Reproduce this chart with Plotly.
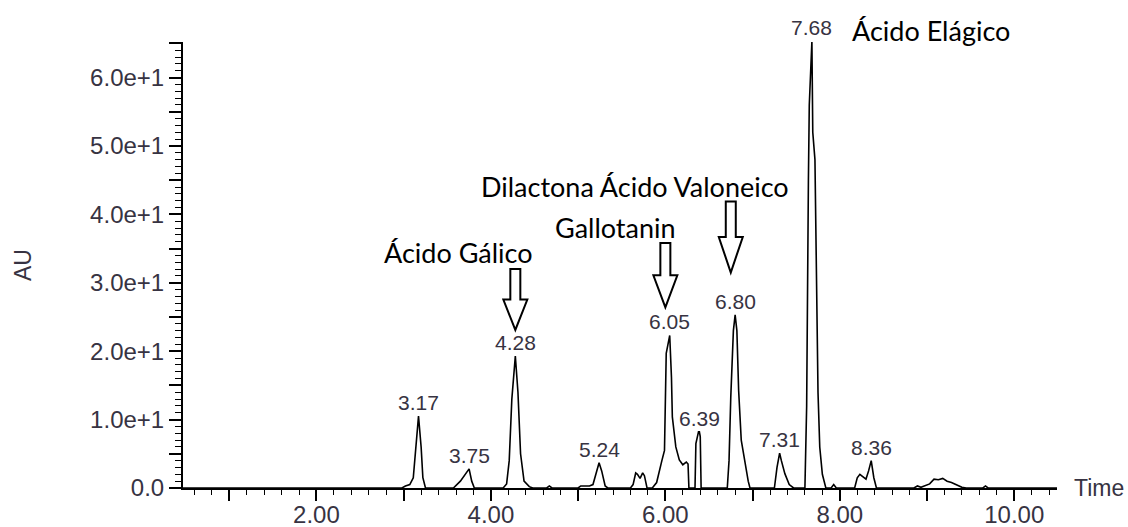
import plotly.graph_objects as go

# ---- chromatogram trace (vertices) ----
time_min = [0.47, 2.98, 3.02, 3.07, 3.11, 3.14, 3.17, 3.20, 3.22, 3.25,
            3.57, 3.65, 3.72, 3.75, 3.78, 3.81,
            4.14, 4.18, 4.21, 4.24, 4.28, 4.31, 4.34, 4.38, 4.44, 4.48,
            4.64, 4.67, 4.70,
            5.00, 5.03, 5.13, 5.17, 5.21, 5.24, 5.27, 5.31, 5.34,
            5.60, 5.63, 5.66, 5.68, 5.71, 5.74, 5.76, 5.79,
            5.85, 5.90, 5.93, 5.96, 5.99, 6.01, 6.05, 6.07, 6.08, 6.12, 6.16, 6.20, 6.24, 6.26, 6.27,
            6.34, 6.35, 6.38, 6.39, 6.40, 6.41,
            6.71, 6.73, 6.75, 6.78, 6.80, 6.82, 6.84, 6.87, 6.92, 6.95, 6.97,
            7.25, 7.28, 7.31, 7.33, 7.37, 7.42, 7.47,
            7.60, 7.62, 7.64, 7.65, 7.68, 7.69, 7.715, 7.73, 7.75, 7.77, 7.80, 7.84,
            7.90, 7.93, 7.96,
            8.17, 8.20, 8.23, 8.26, 8.30, 8.33, 8.36, 8.39, 8.42,
            8.85, 8.89, 8.93, 8.98, 9.03, 9.08, 9.13, 9.18, 9.23, 9.28, 9.34, 9.40, 9.45,
            9.64, 9.67, 9.70, 10.49]
absorb_au = [0, 0, 0.3, 0.5, 1.5, 6.0, 10.5, 6.0, 1.5, 0,
             0, 1.0, 2.2, 2.8, 1.0, 0,
             0, 0.6, 4.0, 13.0, 19.3, 14.0, 5.0, 1.0, 0.2, 0,
             0, 0.3, 0,
             0, 0.3, 0.3, 0.5, 2.5, 3.7, 2.5, 0.3, 0,
             0, 0.5, 2.2, 2.0, 1.4, 2.2, 1.8, 0,
             0, 0.8, 2.2, 4.0, 5.5, 19.7, 22.3, 16.2, 10.4, 6.0, 4.1, 3.4, 3.8, 3.5, 0,
             0, 6.5, 8.2, 8.2, 7.5, 0,
             0, 4.0, 13.3, 23.0, 25.3, 23.0, 14.3, 7.0, 3.1, 1.0, 0,
             0, 3.0, 5.1, 4.0, 2.1, 0.5, 0,
             0, 12.0, 45.0, 56.0, 65.3, 52.0, 48.0, 30.0, 14.0, 6.0, 2.0, 0,
             0, 0.5, 0,
             0, 1.5, 2.0, 1.7, 1.3, 2.5, 4.0, 1.5, 0,
             0, 0.3, 0.1, 0.3, 0.6, 1.3, 1.2, 1.4, 1.0, 0.8, 0.4, 0.1, 0,
             0, 0.3, 0, 0]

# ---- labelled retention times ----
peak_rt = [3.17, 3.75, 4.28, 5.24, 6.05, 6.39, 6.80, 7.31, 7.68, 8.36]
peak_h = [10.5, 2.8, 19.3, 3.7, 22.3, 8.2, 25.3, 5.1, 65.3, 4.0]

# ---- compound names ----
comp_names = ["Ácido Gálico", "Gallotanin", "Dilactona Ácido Valoneico", "Ácido Elágico"]
comp_x = [3.63, 5.43, 5.65, 9.04]
comp_y = [34.5, 38.1, 44.1, 66.9]

# ---- hollow arrows (tip x, tip y, top y) ----
arrow_x = [4.28, 6.00, 6.75]
arrow_tip = [23.1, 26.4, 31.5]
arrow_top = [32.0, 35.8, 41.9]

x_ticks = [1, 2, 3, 4, 5, 6, 7, 8, 9, 10]
x_text = ["", "2.00", "", "4.00", "", "6.00", "", "8.00", "", "10.00"]
y_ticks = [0, 5, 10, 15, 20, 25, 30, 35, 40, 45, 50, 55, 60, 65]
y_text = ["0.0", "", "1.0e+1", "", "2.0e+1", "", "3.0e+1", "", "4.0e+1", "",
          "5.0e+1", "", "6.0e+1", ""]

XR = [0.47, 10.49]
YR = [0, 65.2]
W, H = 1128, 527
ML, MR, MT, MB = 183, 71, 42, 39
PW, PH = W - ML - MR, H - MT - MB
px_x = (XR[1] - XR[0]) / PW
px_y = (YR[1] - YR[0]) / PH

TXT = "#373342"
AX_FONT = "Liberation Sans, Arial, sans-serif"
NAME_FONT = "Lato, Open Sans, sans-serif"

fig = go.Figure()
fig.add_trace(go.Scatter(x=time_min, y=absorb_au, mode="lines",
                         line=dict(color="black", width=1.6), cliponaxis=False,
                         hoverinfo="skip"))

for rt, h in zip(peak_rt, peak_h):
    fig.add_annotation(x=rt, y=h / YR[1], xref="x", yref="paper", text=f"{rt:.2f}",
                       showarrow=False, yanchor="bottom", xanchor="center", yshift=0,
                       font=dict(family=AX_FONT, size=21, color=TXT))

for name, cx, cy in zip(comp_names, comp_x, comp_y):
    fig.add_annotation(x=cx, y=cy / YR[1], xref="x", yref="paper", text=name,
                       showarrow=False, yanchor="middle", xanchor="center",
                       font=dict(family=NAME_FONT, size=27, color="black"))

sw = 5 * px_x
hw = 12 * px_x
for ax_, tip, top in zip(arrow_x, arrow_tip, arrow_top):
    hb = tip + (top - tip) * 0.5
    path = (f"M {ax_-sw},{top} L {ax_+sw},{top} L {ax_+sw},{hb} L {ax_+hw},{hb} "
            f"L {ax_},{tip} L {ax_-hw},{hb} L {ax_-sw},{hb} Z")
    fig.add_shape(type="path", path=path, xref="x", yref="y",
                  line=dict(color="black", width=2), fillcolor="rgba(0,0,0,0)")

fig.add_annotation(x=(1072 - ML) / PW, y=0, xref="paper", yref="paper", text="Time",
                   showarrow=False, xanchor="left", yanchor="middle",
                   font=dict(family=AX_FONT, size=23, color=TXT))
fig.add_annotation(x=(23 - ML) / PW, y=(488 - 265) / PH,
                   xref="paper", yref="paper", text="AU", textangle=-90,
                   showarrow=False, xanchor="center", yanchor="middle",
                   font=dict(family=AX_FONT, size=23, color=TXT))

fig.update_layout(
    width=W, height=H, margin=dict(l=ML, r=MR, t=MT, b=MB, autoexpand=False),
    plot_bgcolor="white", paper_bgcolor="white", showlegend=False,
    xaxis=dict(range=XR, showline=True, linecolor="black", linewidth=2,
               automargin=False, ticklabelstandoff=-7,
               showgrid=False, zeroline=False, ticks="outside",
               tickvals=x_ticks, ticktext=x_text, ticklen=11, tickwidth=1.5,
               tickcolor="black", tickfont=dict(family=AX_FONT, size=24, color=TXT),
               minor=dict(dtick=0.2, tick0=0, ticks="outside", ticklen=5,
                          tickwidth=1, tickcolor="black", showgrid=False)),
    yaxis=dict(range=YR, showline=True, linecolor="black", linewidth=2,
               automargin=False,
               showgrid=False, zeroline=False, ticks="outside",
               tickvals=y_ticks, ticktext=y_text, ticklen=12, tickwidth=1.5,
               tickcolor="black", tickfont=dict(family=AX_FONT, size=24, color=TXT),
               minor=dict(dtick=1, tick0=0, ticks="outside", ticklen=6,
                          tickwidth=1, tickcolor="black", showgrid=False)),
)

fig.write_html("out.html", config={"displayModeBar": False},
               post_script="document.body.style.margin='0';"
                           "document.body.style.overflow='hidden';")
